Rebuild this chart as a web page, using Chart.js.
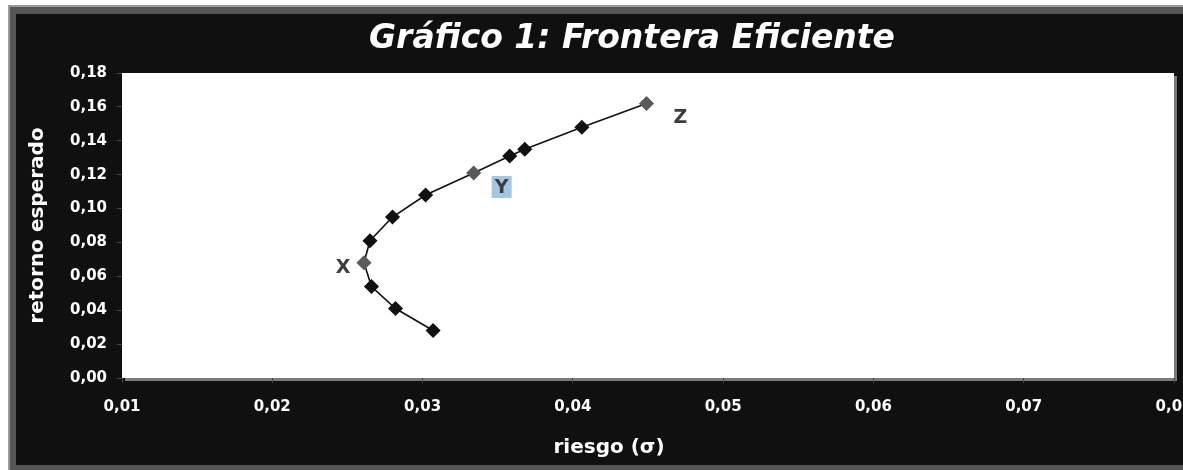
<!DOCTYPE html>
<html>
<head>
<meta charset="utf-8">
<script src="https://cdn.jsdelivr.net/npm/chart.js@4/dist/chart.umd.min.js"></script>
<style>
  html, body { margin: 0; padding: 0; background: #fff; }
  #wrap { width: 1183px; height: 470px; }
</style>
</head>
<body>
<div id="wrap"><canvas id="frontera" width="1183" height="470"></canvas></div>
<script>
// datos (riesgo = sigma, retorno esperado)
var riesgo  = [0.0307, 0.0282, 0.0266, 0.0261, 0.0265, 0.0280, 0.0302, 0.0334, 0.0358, 0.0368, 0.0406, 0.0449];
var retorno = [0.028, 0.041, 0.054, 0.068, 0.081, 0.095, 0.108, 0.121, 0.131, 0.135, 0.148, 0.162];
var etiquetas = ["", "", "", "X", "", "", "", "Y", "", "", "", "Z"];
var xTicks = [0.01, 0.08, 0.01];   // min, max, paso
var yTicks = [0, 0.18, 0.02];

var puntos = riesgo.map(function (r, i) { return { x: r, y: retorno[i] } });

function coma(v, dec) {
    return v.toFixed(dec).replace(".", ",");
}

// marco negro con borde gris y area blanca con sombra
var marco = {
    id: "marco",
    afterLayout(chart) {
        // el titulo no esta centrado en el lienzo
        chart.titleBlock.left += 37;
        chart.titleBlock.right += 37;
    },
    beforeDraw(chart) {
        var ctx = chart.ctx, a = chart.chartArea;
        ctx.save();
        ctx.fillStyle = "#fff";
        ctx.fillRect(0, 0, chart.width, chart.height);
        ctx.fillStyle = "#9a9a9a";
        ctx.fillRect(8, 5, chart.width - 8, chart.height - 5);
        ctx.fillStyle = "#555";
        ctx.fillRect(10, 7, chart.width - 10, chart.height - 7);
        ctx.fillStyle = "#101010";
        ctx.fillRect(16, 14, chart.width - 16, 465 - 14);
        // sombra del area
        ctx.fillStyle = "#7a7a7a";
        ctx.fillRect(a.left + 3, a.top + 3, a.right - a.left, a.bottom - a.top);
        ctx.fillStyle = "#fff";
        ctx.fillRect(a.left, a.top, a.right - a.left, a.bottom - a.top);
        ctx.restore();
    },
    afterDraw(chart, args, opts) {
        // titulo del eje x, algo a la izquierda del centro
        var ctx = chart.ctx;
        ctx.save();
        ctx.font = "bold 20px 'DejaVu Sans'";
        ctx.fillStyle = "#fff";
        ctx.textAlign = "center";
        ctx.textBaseline = "middle";
        ctx.fillText(opts.ejeX, 609, 448);
        ctx.restore();
    }
};

var letras = {
    id: "letras",
    afterDatasetsDraw(chart, args, opts) {
        var ctx = chart.ctx;
        var meta = chart.getDatasetMeta(0);
        ctx.save();
        ctx.font = "bold 19px 'DejaVu Sans'";
        ctx.textAlign = "center";
        ctx.textBaseline = "middle";
        etiquetas.forEach(function (t, i) {
            if (!t) return;
            var p = meta.data[i];
            var o = opts.offsets[t];
            var x = p.x + o[0], y = p.y + o[1];
            if (opts.fondo[t]) {
                ctx.fillStyle = opts.fondo[t];
                ctx.fillRect(x - 10, y - 11, 20, 22);
            }
            ctx.fillStyle = "#3c3c3c";
            ctx.fillText(t, x, y + 1);
        });
        ctx.restore();
    }
};

new Chart(document.getElementById("frontera"), {
    type: "scatter",
    data: {
        datasets: [{
            data: puntos,
            showLine: true,
            borderColor: "#111",
            borderWidth: 1.6,
            tension: 0,
            pointStyle: "rectRot",
            pointRadius: 6.5,
            pointBorderWidth: 1.5,
            pointBackgroundColor: etiquetas.map(function (t) { return t ? "#5a5a5a" : "#111" }),
            pointBorderColor: etiquetas.map(function (t) { return t ? "#5a5a5a" : "#111" }),
        }]
    },
    options: {
        responsive: false,
        animation: false,
        layout: { padding: { left: 16, right: 9, top: 16, bottom: 5 } },
        plugins: {
            legend: { display: false },
            tooltip: { enabled: false },
            title: {
                display: true,
                text: "Gráfico 1: Frontera Eficiente",
                color: "#fff",
                font: { family: "'DejaVu Sans'", size: 33, weight: "bold", style: "italic", lineHeight: 1.2 },
                padding: { top: 4, bottom: 13.4 }
            },
            marco: { ejeX: "riesgo (σ)" },
            letras: {
                offsets: { X: [-21, 4], Y: [28, 14], Z: [34, 14] },
                fondo: { Y: "#a3c6e3" }
            }
        },
        scales: {
            x: {
                type: "linear",
                min: xTicks[0],
                max: xTicks[1],
                afterFit(scale) {
                    scale.height = 87;
                    scale.paddingLeft = 0;
                    scale.paddingRight = 0;
                },
                grid: { drawOnChartArea: false, drawTicks: true, tickLength: 5, color: "#444" },
                border: { display: false },
                ticks: {
                    stepSize: xTicks[2],
                    color: "#fff",
                    padding: 15,
                    maxRotation: 0,
                    font: { family: "'DejaVu Sans'", size: 15, weight: "bold" },
                    callback: function (v) { return coma(v, 2) }
                },
                title: { display: false }
            },
            y: {
                min: yTicks[0],
                max: yTicks[1],
                afterFit(scale) {
                    scale.width = 106;
                    scale.paddingTop = 0;
                    scale.paddingBottom = 0;
                },
                grid: { drawOnChartArea: false, drawTicks: true, tickLength: 5, color: "#444" },
                border: { display: false },
                ticks: {
                    stepSize: yTicks[2],
                    color: "#fff",
                    padding: 10,
                    font: { family: "'DejaVu Sans'", size: 15, weight: "bold" },
                    callback: function (v) { return coma(v, 2) }
                },
                title: {
                    display: true,
                    text: "retorno esperado",
                    color: "#fff",
                    font: { family: "'DejaVu Sans'", size: 20, weight: "bold" },
                    padding: { top: 10, bottom: 0 }
                }
            }
        }
    },
    plugins: [marco, letras]
});
</script>
</body>
</html>
